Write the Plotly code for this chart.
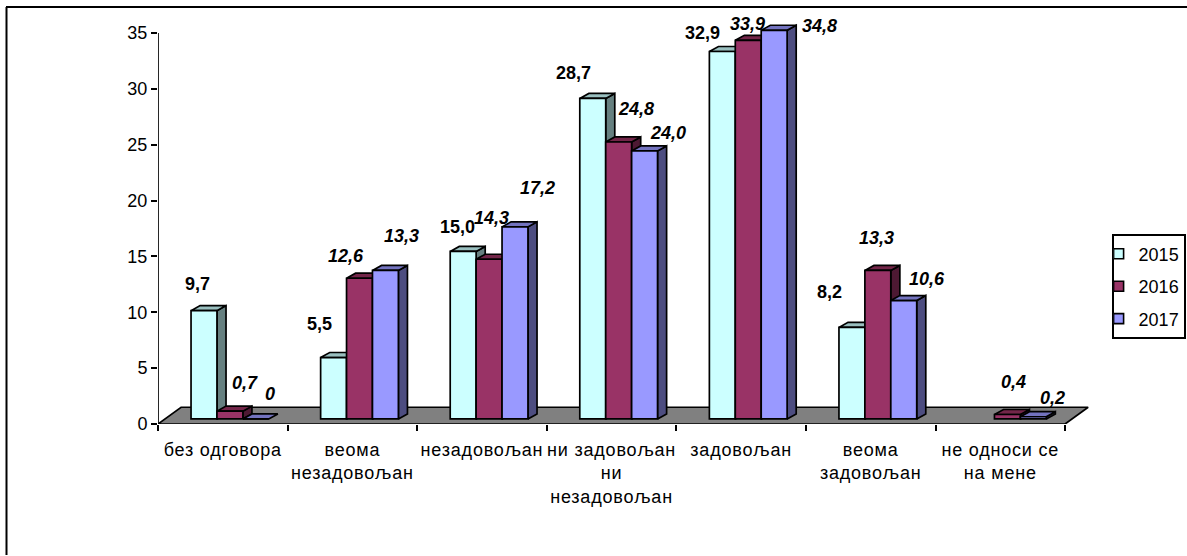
import plotly.graph_objects as go

categories = ["без одговора", "веома<br>незадовољан", "незадовољан", "ни задовољан<br>ни<br>незадовољан",
              "задовољан", "веома<br>задовољан", "не односи се<br>на мене"]
years = ["2015", "2016", "2017"]
v2015 = [9.7, 5.5, 15.0, 28.7, 32.9, 8.2, None]
v2016 = [0.7, 12.6, 14.3, 24.8, 33.9, 13.3, 0.4]
v2017 = [0.0, 13.3, 17.2, 24.0, 34.8, 10.6, 0.2]
y_ticks = [0, 5, 10, 15, 20, 25, 30, 35]

front_colors = ["#CCFFFF", "#993366", "#9999FF"]
top_colors = ["#99BFBF", "#732649", "#7373BF"]
side_colors = ["#668080", "#4D1933", "#4D4D80"]
floor_color = "#808080"

# label offsets in pixels, from the top of each bar
off2015 = [(-7, 27), (-14, 34), (-6, 24), (-19, 25), (-20, 19), (-22, 35), None]
off2016 = [(15, 28), (-14, 22), (2, 41), (17, 33), (-1, 16), (-1, 32), (6, 33)]
off2017 = [(14, 25), (16, 34), (22, 39), (23, 18), (45, 4), (23, 22), (19, 19)]

series = [v2015, v2016, v2017]
offsets = [off2015, off2016, off2017]

# 3-D look in axis units
BW = 0.2          # bar width
START = 0.255     # first bar from category start
DX, DY = 0.07, 0.45     # bar depth
FX, FY = 0.178, 1.5     # floor depth
BASE = 0.45       # bar base sits on the floor
LW = 1.7

fig = go.Figure()

# floor
fig.add_trace(go.Scatter(x=[0, 7, 7 + FX, FX, 0], y=[0, 0, FY, FY, 0], mode="lines", fill="toself",
                         fillcolor=floor_color, line=dict(color="black", width=LW), cliponaxis=False,
                         hoverinfo="skip", showlegend=False))
# y axis line
fig.add_trace(go.Scatter(x=[0, 0], y=[0, 35], mode="lines", line=dict(color="black", width=LW),
                         cliponaxis=False, hoverinfo="skip", showlegend=False))

annotations = []
for s, vals in enumerate(series):
    sx, sy, tx, ty, bx, by = [], [], [], [], [], []
    for i, v in enumerate(vals):
        if v is None:
            continue
        left = i + START + BW * s
        right = left + BW
        top = v + BASE
        if v > 0:
            sx += [right, right + DX, right + DX, right, right, None]
            sy += [BASE, BASE + DY, top + DY, top, BASE, None]
        tx += [left, right, right + DX, left + DX, left, None]
        ty += [top, top, top + DY, top + DY, top, None]
        bx.append(left + BW / 2)
        by.append(v)
        txt = "0" if v == 0 else f"{v:.1f}".replace(".", ",")
        dx, dy = offsets[s][i]
        annotations.append(dict(x=left + BW / 2, y=top, xref="x", yref="y", text=txt, showarrow=False,
                                xshift=dx, yshift=dy, xanchor="center", yanchor="middle",
                                font=dict(family="Liberation Sans", size=18, color="black",
                                          weight="bold", style="normal" if s == 0 else "italic")))
    fig.add_trace(go.Scatter(x=sx, y=sy, mode="lines", fill="toself", fillcolor=side_colors[s],
                             line=dict(color="black", width=LW), hoverinfo="skip", showlegend=False))
    fig.add_trace(go.Scatter(x=tx, y=ty, mode="lines", fill="toself", fillcolor=top_colors[s],
                             line=dict(color="black", width=LW), hoverinfo="skip", showlegend=False))
    fig.add_trace(go.Bar(x=bx, y=by, base=BASE, width=BW, name=years[s], xaxis="x2", yaxis="y2",
                         marker=dict(color=front_colors[s], line=dict(color="black", width=LW)),
                         showlegend=False))
    # legend entry
    fig.add_trace(go.Scatter(x=[None], y=[None], mode="markers", name=years[s], legendgroup=years[s],
                             marker=dict(symbol="square", size=10, color=front_colors[s],
                                         line=dict(color="black", width=1.6))))

X_RANGE = [0, 7.2]
Y_RANGE = [0, 36.53]
PX_L, PX_R, PX_T, PX_B = 158, 1091, 16, 424
W, H = 1187, 556
pw, ph = W - PX_L, PX_B - PX_T   # full plot area, with no right margin so the legend does not push it
x_dom = (PX_R - PX_L) / pw


def px(x):
    return (x - PX_L) / pw


def py(y):
    return (PX_B - y) / ph


fig.update_layout(
    width=W, height=H, barmode="overlay",
    margin=dict(l=PX_L, r=0, t=PX_T, b=H - PX_B, pad=0),
    paper_bgcolor="white", plot_bgcolor="rgba(0,0,0,0)",
    font=dict(family="Liberation Sans", size=18, color="black"),
    xaxis=dict(domain=[0, x_dom], range=X_RANGE, showgrid=False, zeroline=False, showline=False, ticks="",
               tickmode="array", tickvals=[i + 0.5 for i in range(7)], ticktext=categories,
               tickfont=dict(size=18), ticklabelstandoff=13, ticklen=0,
               minor=dict(tickmode="array", tickvals=list(range(8)), ticks="outside", ticklen=6,
                          tickwidth=1.6, tickcolor="black", showgrid=False)),
    yaxis=dict(range=Y_RANGE, showgrid=False, zeroline=False, showline=False, ticks="outside",
               ticklen=6, tickwidth=1.6, tickcolor="black", tickmode="array", tickvals=y_ticks,
               tickfont=dict(size=18)),
    xaxis2=dict(domain=[0, x_dom], range=X_RANGE, overlaying="x", visible=False),
    yaxis2=dict(range=Y_RANGE, overlaying="y", visible=False),
    legend=dict(x=px(1112), y=py(234), xanchor="left", yanchor="top", bgcolor="white",
                bordercolor="black", borderwidth=1.6, font=dict(size=18), indentation=-15,
                tracegroupgap=6, traceorder="grouped", itemwidth=30, entrywidth=42, entrywidthmode="pixels"),
    annotations=annotations,
    shapes=[
        dict(type="line", xref="paper", yref="paper", x0=px(6), x1=px(1187), y0=py(7), y1=py(7),
             line=dict(color="black", width=2)),
        dict(type="line", xref="paper", yref="paper", x0=px(6.5), x1=px(6.5), y0=py(7), y1=py(555),
             line=dict(color="black", width=2)),
    ],
)

post = ("document.body.style.margin='0';"
        "var st=document.createElement('style');"
        "st.textContent='.xtick text{letter-spacing:0.8px}';"
        "document.head.appendChild(st);")
fig.write_html("out.html", post_script=post, config=dict(displayModeBar=False))
